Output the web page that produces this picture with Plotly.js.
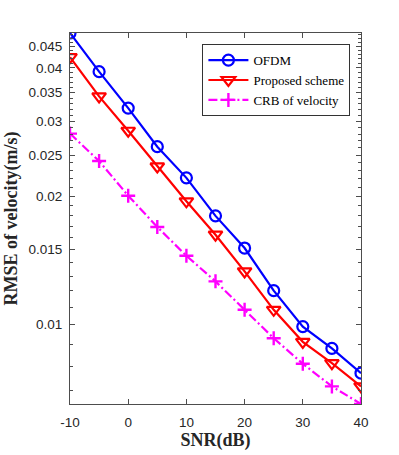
<!DOCTYPE html>
<html>
<head>
<meta charset="utf-8">
<script src="https://cdn.plot.ly/plotly-3.0.1.min.js"></script>
<style>
  html, body { margin: 0; padding: 0; background: #fff; }
  #chart { width: 399px; height: 455px; }
</style>
</head>
<body>
<div id="chart"></div>
<script>
// SNR values (dB)
const snr = [-10, -5, 0, 5, 10, 15, 20, 25, 30, 35, 40];

// RMSE of velocity (m/s)
const ofdm = [0.0483, 0.0392, 0.0322, 0.02615, 0.0221, 0.0180, 0.01513, 0.01202, 0.0099, 0.0088, 0.0077];
const proposed = [0.0424, 0.0343, 0.0285, 0.0235, 0.01947, 0.01626, 0.01334, 0.01084, 0.00912, 0.00813, 0.00717];
const crb = [0.02806, 0.0242, 0.02007, 0.01695, 0.01451, 0.01264, 0.01084, 0.0093, 0.0081, 0.00717, 0.00652];

// tick labels
const yTickVals = [0.01, 0.015, 0.02, 0.025, 0.03, 0.035, 0.04, 0.045];
const yTickText = ['0.01', '0.015', '0.02', '0.025', '0.03', '0.035', '0.04', '0.045'];
const xTickVals = [-10, 0, 10, 20, 30, 40];
const xTickText = ['-10', '0', '10', '20', '30', '40'];

// minor ticks every 0.001 like the matlab axis
const yMinor = [];
for (let k = 7; k <= 48; k++) yMinor.push(k / 1000);

const axisColor = '#4d4d4d';
const tickFont = { family: 'Liberation Sans, Arial, sans-serif', size: 13.5, color: '#262626' };
const titleFont = { family: 'Liberation Serif, Times New Roman, serif', size: 18, color: '#262626', weight: 'bold' };

const traces = [
    {
        x: snr, y: ofdm, name: 'OFDM',
        type: 'scatter', mode: 'lines+markers',
        line: { color: '#0000ff', width: 2.2 },
        marker: { symbol: 'circle-open', size: 11, color: '#0000ff', line: { width: 2.2 } }
    },
    {
        x: snr, y: proposed, name: 'Proposed scheme',
        type: 'scatter', mode: 'lines+markers',
        line: { color: '#ff0000', width: 2.2 },
        marker: { symbol: 'triangle-down-open', size: 12, color: '#ff0000', line: { width: 2.2 } }
    },
    {
        x: snr, y: crb, name: 'CRB of velocity',
        type: 'scatter', mode: 'lines+markers',
        line: { color: '#ff00ff', width: 2.2, dash: '9px,3px,2px,3px' },
        marker: { symbol: 'cross-thin-open', size: 10, color: '#ff00ff', line: { width: 2.4, color: '#ff00ff' } }
    }
];

const layout = {
    width: 399,
    height: 455,
    margin: { l: 70, r: 38, t: 33, b: 51 },
    paper_bgcolor: '#ffffff',
    plot_bgcolor: '#ffffff',
    showlegend: true,
    legend: {
        x: 0.455, y: 0.97,
        xanchor: 'left', yanchor: 'top',
        bgcolor: '#ffffff',
        bordercolor: '#333333',
        borderwidth: 1,
        font: { family: 'Liberation Serif, Times New Roman, serif', size: 13, color: '#000' },
        tracegroupgap: 0,
        itemwidth: 40
    },
    xaxis: {
        range: [-10, 40],
        tickmode: 'array',
        tickvals: xTickVals,
        ticktext: xTickText,
        ticks: 'inside',
        ticklen: 5,
        tickcolor: axisColor,
        ticklabelstandoff: 6,
        showline: true,
        linecolor: axisColor,
        linewidth: 1,
        mirror: 'allticks',
        showgrid: false,
        zeroline: false,
        tickfont: tickFont,
        title: { text: 'SNR(dB)', standoff: 2, font: titleFont }
    },
    yaxis: {
        type: 'log',
        range: [Math.log10(0.00652), Math.log10(0.0483)],
        tickmode: 'array',
        tickvals: yTickVals,
        ticktext: yTickText,
        ticks: 'inside',
        ticklen: 5,
        tickcolor: axisColor,
        ticklabelstandoff: 4,
        minor: { tickmode: 'array', tickvals: yMinor, ticks: 'inside', ticklen: 3, tickcolor: axisColor, showgrid: false },
        showline: true,
        linecolor: axisColor,
        linewidth: 1,
        mirror: 'allticks',
        showgrid: false,
        zeroline: false,
        tickfont: tickFont,
        title: { text: 'RMSE of velocity(m/s)', standoff: 6, font: titleFont }
    }
};

Plotly.newPlot('chart', traces, layout, { displayModeBar: false, staticPlot: true });
</script>
</body>
</html>
